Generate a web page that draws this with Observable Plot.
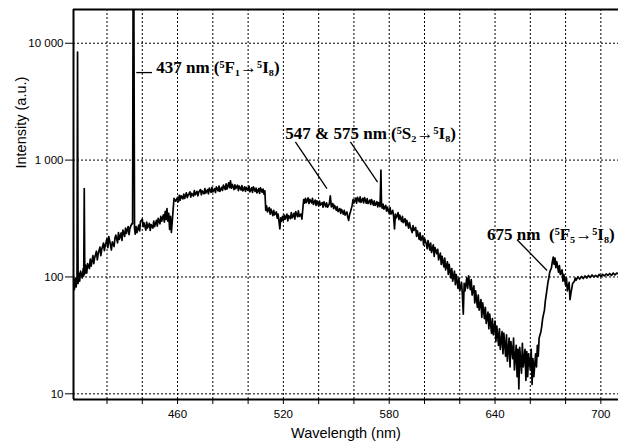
<!DOCTYPE html>
<html><head><meta charset="utf-8">
<script src="https://cdn.jsdelivr.net/npm/d3@7"></script>
<script src="https://cdn.jsdelivr.net/npm/@observablehq/plot@0.6"></script>
<style>body{margin:0;background:#fff;} #chart svg{display:block;}</style>
</head><body><div id="chart"></div>
<script>
// Axis settings
const xDomain = [401, 710];
const yDomain = [8.94, 19440];
const xTicks = [420, 440, 460, 480, 500, 520, 540, 560, 580, 600, 620, 640, 660, 680, 700];
const xTickLabels = [460, 520, 580, 640, 700];
const yTicks = [10, 100, 1000, 10000];
const yTickLabels = ["10", "100", "1 000", "10 000"];

// Spectrum, [wavelength nm, intensity a.u.]
const spectrum400 = [
  [401, 95], [401.5, 78], [402, 98], [402.5, 82], [403, 100], [403.3, 8400], [403.6, 88], [404, 108],
  [404.5, 92], [405, 112], [406, 98], [406.5, 118], [406.8, 102], [407.1, 570], [407.4, 106], [408, 126],
  [408.5, 108], [409, 130], [410, 118], [410.5, 142], [411, 124], [412, 152], [412.5, 130], [413, 146],
  [414, 166], [414.5, 140], [415, 158], [416, 180], [416.5, 152], [417, 172], [418, 195], [418.5, 168],
  [419, 186], [420, 212], [420.5, 178], [421, 222], [422, 186], [422.5, 170], [423, 200], [424, 182],
  [424.5, 215], [425, 228], [426, 196], [426.5, 240], [427, 210], [428, 238], [428.5, 205], [429, 252],
  [430, 222], [430.5, 262], [431, 236], [432, 270], [432.5, 230], [433, 262], [434, 285],
  [434.5, 285], [434.8, 30000], [435.2, 30000], [435.6, 262], [436, 232], [436.5, 270], [437, 240],
  [438, 278], [438.5, 248], [439, 300], [440, 312], [440.5, 270], [441, 290], [442, 252], [442.5, 295],
  [443, 262], [444, 288], [444.5, 250], [445, 280], [446, 262], [446.5, 300], [447, 270], [448, 305],
  [448.5, 272], [449, 318], [450, 285], [450.5, 330], [451, 300], [452, 340], [452.5, 295], [453, 365],
  [453.5, 310], [454, 385], [454.5, 300], [455, 350], [455.5, 255], [456, 330], [456.5, 240], [457, 300],
  [457.5, 380], [458, 470], [459, 445]
];
const spectrum460 = [
  [460, 480], [460.5, 440], [461, 500], [461.5, 455], [462, 495], [463, 465], [463.5, 512], [464, 470],
  [465, 525], [465.5, 478], [466, 500], [467, 535], [467.5, 482], [468, 520], [469, 492], [469.5, 548],
  [470, 505], [471, 540], [471.5, 495], [472, 530], [473, 560], [473.5, 505], [474, 545], [475, 515],
  [475.5, 570], [476, 522], [477, 560], [477.5, 515], [478, 575], [479, 530], [479.5, 585], [480, 535],
  [481, 570], [481.5, 528], [482, 590], [483, 545], [483.5, 598], [484, 540], [485, 585], [485.5, 550],
  [486, 610], [487, 560], [487.5, 625], [488, 565], [489, 640], [489.5, 580], [490, 665], [490.5, 575],
  [491, 620], [492, 560], [492.5, 615], [493, 570], [494, 610], [494.5, 548], [495, 600], [496, 555],
  [496.5, 605], [497, 545], [498, 590], [498.5, 540], [499, 585], [500, 548], [500.5, 600], [501, 535],
  [502, 580], [502.5, 530], [503, 590], [504, 540], [504.5, 575], [505, 525], [506, 570], [506.5, 520],
  [507, 578], [508, 530], [508.5, 565], [509, 512], [509.5, 545], [510, 372], [510.5, 405], [511, 360],
  [512, 392], [512.5, 345], [513, 380], [514, 335], [514.5, 372], [515, 340], [516, 360], [516.5, 318],
  [517, 345], [517.5, 300], [518, 258], [518.5, 320], [519, 300], [519.5, 330]
];
const spectrum520 = [
  [520, 305], [520.5, 338], [521, 312], [522, 345], [522.5, 302], [523, 335], [524, 315], [524.5, 355],
  [525, 320], [526, 350], [526.5, 312], [527, 362], [528, 328], [528.5, 368], [529, 330], [530, 345],
  [530.5, 312], [531, 380], [531.5, 460], [532, 428], [532.5, 470], [533, 432], [534, 475], [534.5, 425],
  [535, 462], [536, 430], [536.5, 470], [537, 418], [538, 455], [538.5, 410], [539, 448], [540, 405],
  [540.5, 445], [541, 412], [542, 432], [542.5, 395], [543, 440], [544, 400], [544.5, 430], [545, 395],
  [546, 420], [546.6, 495], [547.2, 398], [548, 425], [548.5, 385], [549, 410], [550, 372], [550.5, 400],
  [551, 362], [552, 385], [552.5, 350], [553, 378], [554, 345], [554.5, 372], [555, 338], [556, 360],
  [556.5, 325], [557, 305], [557.5, 340], [558, 360], [559, 410], [559.5, 460], [560, 430], [561, 472],
  [561.5, 428], [562, 480], [563, 440], [563.5, 485], [564, 435], [565, 470], [565.5, 430], [566, 478],
  [567, 428], [567.5, 468], [568, 425], [569, 455], [569.5, 418], [570, 460], [571, 412], [571.5, 448],
  [572, 410], [573, 440], [573.5, 398], [574, 432], [574.8, 400], [575.1, 600], [575.3, 820], [575.6, 430],
  [576, 388], [576.5, 420], [577, 380], [578, 410], [578.5, 365], [579, 395]
];
const spectrum580 = [
  [580, 350], [580.5, 392], [581, 345], [582, 372], [582.5, 330], [583, 258], [583.5, 345], [584, 320],
  [585, 355], [585.5, 310], [586, 338], [587, 298], [587.5, 330], [588, 292], [589, 315], [589.5, 275],
  [590, 305], [591, 262], [591.5, 292], [592, 268], [593, 240], [593.5, 275], [594, 250], [595, 265],
  [595.5, 222], [596, 248], [597, 210], [597.5, 238], [598, 205], [599, 225], [599.5, 188], [600, 215],
  [601, 192], [601.5, 175], [602, 205], [603, 170], [603.5, 195], [604, 162], [605, 188], [605.5, 150],
  [606, 178], [607, 158], [607.5, 172], [608, 140], [609, 160], [609.5, 128], [610, 150], [611, 122],
  [611.5, 145], [612, 115], [613, 135], [613.5, 105], [614, 128], [615, 98], [615.5, 118], [616, 92],
  [617, 112], [617.5, 86], [618, 105], [619, 80], [619.5, 98], [620, 76], [621, 90], [621.5, 70],
  [622, 48], [622.5, 88], [623, 76], [624, 98], [624.5, 80], [625, 102], [626, 78], [626.5, 95],
  [627, 70], [628, 84], [628.5, 60], [629, 76], [630, 55], [630.5, 70], [631, 52], [632, 64],
  [632.5, 45], [633, 60], [634, 44], [634.5, 55], [635, 40], [636, 50], [636.5, 36], [637, 48],
  [638, 33], [638.5, 44], [639, 32]
];
const spectrum640 = [
  [640, 42], [640.5, 28], [641, 38], [642, 26], [642.5, 36], [643, 24], [644, 34], [644.5, 22],
  [645, 33], [646, 21], [646.5, 32], [647, 19], [648, 30], [648.5, 17], [649, 28], [650, 20],
  [650.5, 30], [651, 16], [652, 26], [652.5, 14], [653, 24], [653.5, 11], [654, 25], [655, 15],
  [655.5, 27], [656, 17], [657, 24], [657.5, 13], [658, 23], [658.5, 14], [659, 22], [660, 16],
  [660.5, 24], [661, 12], [661.5, 20], [662, 14], [663, 22], [663.5, 17], [664, 26], [664.5, 21],
  [665, 30], [666, 34], [666.5, 38], [667, 44], [668, 52], [668.5, 62], [669, 70], [670, 90],
  [670.5, 98], [671, 110], [672, 120], [672.5, 135], [673, 148], [673.5, 128], [674, 145], [674.5, 120],
  [675, 135], [676, 110], [676.5, 125], [677, 105], [678, 115], [678.5, 92], [679, 105], [680, 85],
  [680.5, 98], [681, 76], [682, 90], [682.5, 64], [683, 72], [684, 88], [685, 92], [685.5, 98],
  [686, 94], [687, 100], [688, 96], [689, 101], [690, 97], [691, 102], [692, 98], [693, 103],
  [694, 99], [695, 104], [696, 100], [697, 103], [698, 100], [699, 105], [700, 101], [701, 105],
  [702, 102], [703, 106], [704, 103], [705, 107], [706, 103], [707, 108], [708, 104], [709, 108],
  [710, 106]
];

// Annotations (text anchored at wavelength / intensity)
const annotationLabels = ["437 nm (⁵F₁→⁵I₈)", "547 & 575 nm (⁵S₂→⁵I₈)", "675 nm\u2002(⁵F₅→⁵I₈)"];
const annotationWavelength = [447.9, 521.1, 635.5];
const annotationIntensity = [6170, 1702, 232];
// Leader lines [x1, y1, x2, y2]
const leaderLines = [
  [436.6, 5610, 445.5, 5610],
  [526.8, 1429, 544.7, 570],
  [558.0, 1429, 573.4, 649],
  [652.5, 208, 669.5, 113.7]
];

const spectrum = [...spectrum400, ...spectrum460, ...spectrum520, ...spectrum580, ...spectrum640]
  .map(([w, v]) => ({w, v}));
const annotations = annotationLabels.map((t, i) => ({t, x: annotationWavelength[i], y: annotationIntensity[i]}));
const leaders = leaderLines.map(([x1, y1, x2, y2]) => ({x1, y1, x2, y2}));

const chart = Plot.plot({
  width: 618,
  height: 448,
  marginLeft: 73,
  marginRight: 0,
  marginTop: 9,
  marginBottom: 49,
  style: {fontFamily: "'Liberation Sans', Arial, sans-serif", fontSize: "11.5px", background: "#fff", color: "#000"},
  x: {domain: xDomain},
  y: {type: "log", domain: yDomain},
  marks: [
    Plot.ruleX(xTicks, {stroke: "#000", strokeWidth: 1, strokeDasharray: "2,2"}),
    Plot.ruleY(yTicks, {stroke: "#000", strokeWidth: 1, strokeDasharray: "2,2"}),
    Plot.line(spectrum, {x: "w", y: "v", stroke: "#000", strokeWidth: 1.7, clip: true}),
    Plot.ruleX([xDomain[0]], {stroke: "#000", strokeWidth: 2}),
    Plot.ruleY([yDomain[0]], {stroke: "#000", strokeWidth: 2}),
    Plot.ruleY([yDomain[1]], {stroke: "#000", strokeWidth: 2}),
    Plot.axisX(xTicks, {tickSize: 5, tickPadding: 5, label: null,
      tickFormat: d => xTickLabels.includes(d) ? String(d) : ""}),
    Plot.axisY(yTicks, {tickSize: 8, tickPadding: 2, label: null,
      tickFormat: d => yTickLabels[yTicks.indexOf(d)]}),
    Plot.link(leaders, {x1: "x1", y1: "y1", x2: "x2", y2: "y2", stroke: "#000", strokeWidth: 1.3}),
    Plot.text(annotations, {x: "x", y: "y", text: "t", textAnchor: "start",
      fontFamily: "'Liberation Serif', 'Times New Roman', serif", fontWeight: "bold", fontSize: 17}),
    Plot.text(["Wavelength (nm)"], {frameAnchor: "bottom", dy: 38, fontSize: 14.5}),
    Plot.text(["Intensity (a.u.)"], {frameAnchor: "left", dx: -52, dy: -36, rotate: -90, fontSize: 14.5})
  ]
});
document.getElementById("chart").append(chart);
</script>
</body></html>
